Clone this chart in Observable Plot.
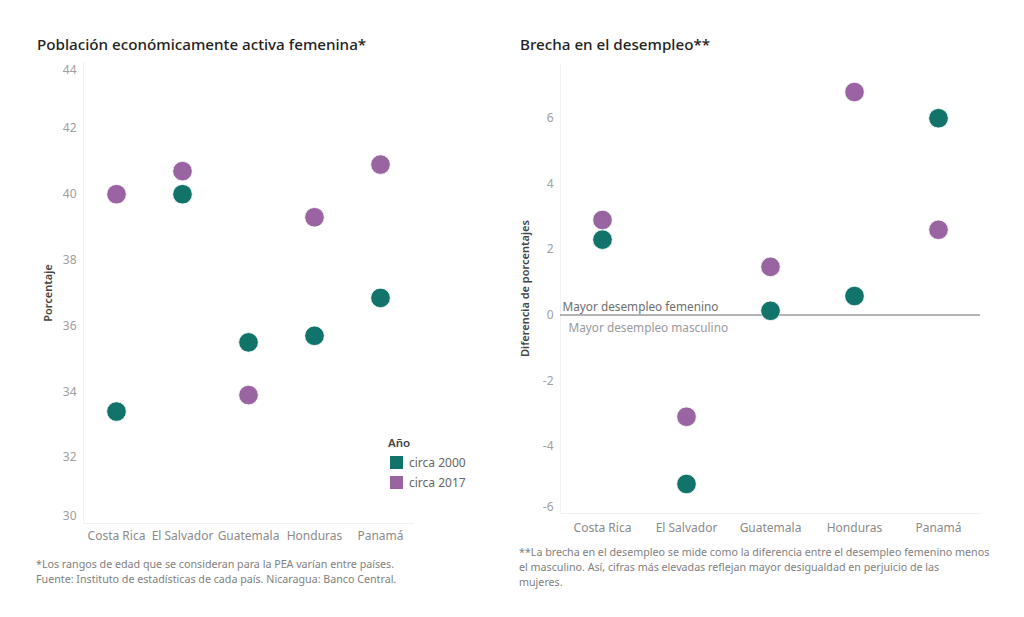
<!DOCTYPE html>
<html>
<head>
<meta charset="utf-8">
<script src="https://cdn.jsdelivr.net/npm/d3@7"></script>
<script src="https://cdn.jsdelivr.net/npm/@observablehq/plot@0.6"></script>
<style>
  html, body { margin: 0; padding: 0; background: #fff; }
  #wrap { position: relative; width: 1024px; height: 617px; overflow: hidden; font-family: "Noto Sans", sans-serif; }
  .title { position: absolute; font-size: 15.2px; font-weight: 500; color: #222; white-space: nowrap; }
  .note { position: absolute; font-size: 10.7px; color: #808080; line-height: 15px; }
  .chart { position: absolute; top: 0; }
  .legend { position: absolute; left: 388px; top: 435px; font-size: 12px; color: #666; }
  .legend .hd { font-weight: 600; color: #444; font-size: 11.5px; margin-bottom: 2px; }
  .legend .row { display: flex; align-items: center; height: 20px; }
  .legend .sw { width: 13px; height: 13px; margin: 0 6px 0 2px; }
</style>
</head>
<body>
<div id="wrap">
  <div class="title" style="left:37px; top:34px;">Población económicamente activa femenina*</div>
  <div class="title" style="left:520px; top:34px;">Brecha en el desempleo**</div>
  <div id="left" class="chart" style="left:0px;"></div>
  <div id="right" class="chart" style="left:0px;"></div>
  <div class="legend" id="legend"></div>
  <div class="note" style="left:36px; top:557px; width:470px;">*Los rangos de edad que se consideran para la PEA varían entre países.<br>Fuente: Instituto de estadísticas de cada país. Nicaragua: Banco Central.</div>
  <div class="note" style="left:519px; top:545px; width:480px;">**La brecha en el desempleo se mide como la diferencia entre el desempleo femenino menos<br>el masculino. Así, cifras más elevadas reflejan mayor desigualdad en perjuicio de las<br>mujeres.</div>
</div>
<script>
const countries = ["Costa Rica", "El Salvador", "Guatemala", "Honduras", "Panamá"];
const years = ["circa 2000", "circa 2017"];
const colors = ["#11736a", "#9a64a2"];

// Población económicamente activa femenina (%)
const pea2000 = [33.4, 40.0, 35.5, 35.7, 36.85];
const pea2017 = [40.0, 40.7, 33.9, 39.3, 40.9];

// Brecha en el desempleo (puntos porcentuales)
const gap2000 = [2.3, -5.15, 0.13, 0.58, 6.0];
const gap2017 = [2.9, -3.1, 1.47, 6.8, 2.6];

const leftTicks = [32, 34, 36, 38, 40, 42];
const leftTop = [44];
const leftBottom = [30];
const rightTicks = [-4, -2, 0, 2, 4, 6];
const rightBottom = [-6];

function rows(a, b) {
  const out = [];
  countries.forEach((c, i) => {
    out.push({country: c, year: years[0], value: a[i]});
    out.push({country: c, year: years[1], value: b[i]});
  });
  return out;
}
const peaData = rows(pea2000, pea2017);
const gapData = rows(gap2000, gap2017);

const common = {
  style: {fontFamily: "Noto Sans, sans-serif", background: "transparent", overflow: "visible"},
  color: {domain: years, range: colors},
};
const fmt = d => String(d);
const yAxis = (ticks, dy) => Plot.axisY({ticks, tickFormat: fmt, tickSize: 0, tickPadding: 7, fontSize: 12, color: "#a0a0a0", label: null, dy});

const left = Plot.plot({
  ...common,
  width: 512, height: 617,
  marginLeft: 83, marginRight: 99, marginTop: 62, marginBottom: 94,
  x: {type: "point", domain: countries, padding: 0.5, label: null},
  y: {domain: [30, 44], label: null},
  marks: [
    Plot.frame({anchor: "left", stroke: "#f0f0f0"}),
    Plot.frame({anchor: "bottom", stroke: "#f0f0f0"}),
    yAxis(leftTicks, 0),
    yAxis(leftTop, 8),
    yAxis(leftBottom, -7),
    Plot.axisX({tickSize: 0, tickPadding: 8, fontSize: 12, color: "#8a8a8a", label: null}),
    Plot.text(["Porcentaje"], {frameAnchor: "left", textAnchor: "middle", dx: -35, rotate: -90, fontSize: 11, fontWeight: 600, fill: "#444"}),
    Plot.dot(peaData, {x: "country", y: "value", fill: "year", r: 9.8, stroke: "white", strokeWidth: 0.8})
  ]
});
document.getElementById("left").appendChild(left);

const right = Plot.plot({
  ...common,
  width: 1024, height: 617,
  marginLeft: 560, marginRight: 44, marginTop: 63, marginBottom: 104,
  x: {type: "point", domain: countries, padding: 0.5, label: null},
  y: {domain: [-6.05, 7.67], label: null},
  marks: [
    Plot.frame({anchor: "left", stroke: "#f0f0f0"}),
    Plot.frame({anchor: "bottom", stroke: "#f0f0f0"}),
    yAxis(rightTicks, 0),
    yAxis(rightBottom, -5),
    Plot.axisX({tickSize: 0, tickPadding: 10, fontSize: 12, color: "#8a8a8a", label: null}),
    Plot.text(["Diferencia de porcentajes"], {frameAnchor: "left", textAnchor: "middle", dx: -35, rotate: -90, fontSize: 11, fontWeight: 600, fill: "#444"}),
    Plot.ruleY([0], {stroke: "#9a9a9a", strokeWidth: 1.5}),
    Plot.text(["Mayor desempleo femenino"], {x: () => countries[0], y: () => 0, dx: -40, dy: -8, textAnchor: "start", fontSize: 11.8, fill: "#6e6e6e"}),
    Plot.text(["Mayor desempleo masculino"], {x: () => countries[0], y: () => 0, dx: -34, dy: 13, textAnchor: "start", fontSize: 11.8, fill: "#999"}),
    Plot.dot(gapData, {x: "country", y: "value", fill: "year", r: 9.8, stroke: "white", strokeWidth: 0.8})
  ]
});
document.getElementById("right").appendChild(right);

const lg = document.getElementById("legend");
lg.innerHTML = `<div class="hd">Año</div>` + years.map((y, i) =>
  `<div class="row"><div class="sw" style="background:${colors[i]}"></div>${y}</div>`).join("");
</script>
</body>
</html>
